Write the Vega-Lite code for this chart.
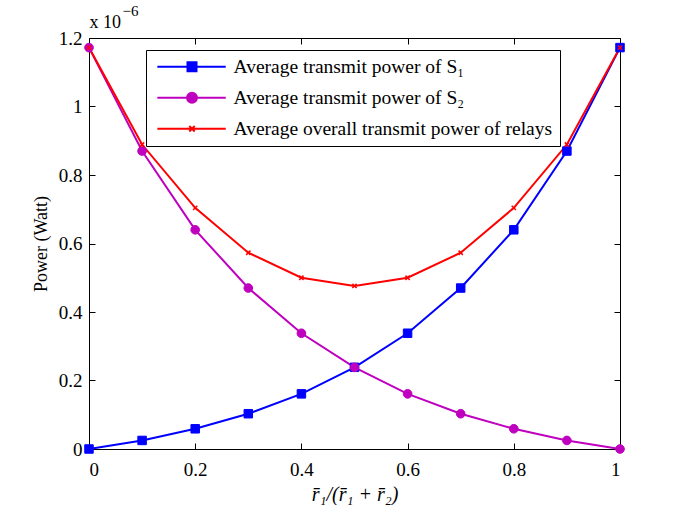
{
  "$schema": "https://vega.github.io/schema/vega-lite/v6.json",
  "width": 531,
  "height": 411,
  "autosize": {"type": "none"},
  "padding": {"left": 89, "top": 38, "right": 65, "bottom": 56},
  "background": "white",
  "config": {
    "font": "Liberation Serif",
    "view": {"stroke": "black", "strokeWidth": 1},
    "axis": {
      "domain": false,
      "grid": false,
      "tickColor": "black",
      "tickSize": -6,
      "labelFont": "Liberation Serif",
      "labelFontSize": 19,
      "labelColor": "black",
      "titleFont": "Liberation Serif",
      "titleFontSize": 18,
      "titleFontWeight": "normal",
      "titleColor": "black"
    },
    "legend": {"labelFont": "Liberation Serif"}
  },
  "data": {
    "values": [
      {"r": 0, "series": "Average transmit power of S₁", "p": 0},
      {"r": 0.1, "series": "Average transmit power of S₁", "p": 0.025},
      {"r": 0.2, "series": "Average transmit power of S₁", "p": 0.059},
      {"r": 0.3, "series": "Average transmit power of S₁", "p": 0.103},
      {"r": 0.4, "series": "Average transmit power of S₁", "p": 0.161},
      {"r": 0.5, "series": "Average transmit power of S₁", "p": 0.2385},
      {"r": 0.6, "series": "Average transmit power of S₁", "p": 0.338},
      {"r": 0.7, "series": "Average transmit power of S₁", "p": 0.470},
      {"r": 0.8, "series": "Average transmit power of S₁", "p": 0.640},
      {"r": 0.9, "series": "Average transmit power of S₁", "p": 0.870},
      {"r": 1.0, "series": "Average transmit power of S₁", "p": 1.172},
      {"r": 0, "series": "Average transmit power of S₂", "p": 1.172},
      {"r": 0.1, "series": "Average transmit power of S₂", "p": 0.870},
      {"r": 0.2, "series": "Average transmit power of S₂", "p": 0.640},
      {"r": 0.3, "series": "Average transmit power of S₂", "p": 0.470},
      {"r": 0.4, "series": "Average transmit power of S₂", "p": 0.338},
      {"r": 0.5, "series": "Average transmit power of S₂", "p": 0.2385},
      {"r": 0.6, "series": "Average transmit power of S₂", "p": 0.161},
      {"r": 0.7, "series": "Average transmit power of S₂", "p": 0.103},
      {"r": 0.8, "series": "Average transmit power of S₂", "p": 0.059},
      {"r": 0.9, "series": "Average transmit power of S₂", "p": 0.025},
      {"r": 1.0, "series": "Average transmit power of S₂", "p": 0},
      {"r": 0, "series": "Average overall transmit power of relays", "p": 1.172},
      {"r": 0.1, "series": "Average overall transmit power of relays", "p": 0.889},
      {"r": 0.2, "series": "Average overall transmit power of relays", "p": 0.704},
      {"r": 0.3, "series": "Average overall transmit power of relays", "p": 0.573},
      {"r": 0.4, "series": "Average overall transmit power of relays", "p": 0.500},
      {"r": 0.5, "series": "Average overall transmit power of relays", "p": 0.476},
      {"r": 0.6, "series": "Average overall transmit power of relays", "p": 0.500},
      {"r": 0.7, "series": "Average overall transmit power of relays", "p": 0.573},
      {"r": 0.8, "series": "Average overall transmit power of relays", "p": 0.704},
      {"r": 0.9, "series": "Average overall transmit power of relays", "p": 0.889},
      {"r": 1.0, "series": "Average overall transmit power of relays", "p": 1.172}
    ]
  },
  "resolve": {"axis": {"x": "independent", "y": "independent"}},
  "layer": [
    {
      "mark": {"type": "line", "strokeWidth": 2, "clip": false},
      "encoding": {
        "x": {
          "field": "r", "type": "quantitative",
          "scale": {"domain": [0, 1], "nice": false, "zero": false},
          "axis": {
            "values": [0, 0.2, 0.4, 0.6, 0.8, 1],
            "format": "~g",
            "labelPadding": 17,
            "title": "r̄₁/(r̄₁ + r̄₂)",
            "titleFontStyle": "italic",
            "titleFontSize": 20,
            "titlePadding": 5
          }
        },
        "y": {
          "field": "p", "type": "quantitative",
          "scale": {"domain": [0, 1.2], "nice": false},
          "axis": {
            "values": [0, 0.2, 0.4, 0.6, 0.8, 1, 1.2],
            "format": "~g",
            "labelPadding": 13,
            "title": "Power (Watt)",
            "titlePadding": 8
          }
        },
        "color": {
          "field": "series", "type": "nominal",
          "scale": {
            "domain": ["Average transmit power of S₁", "Average transmit power of S₂", "Average overall transmit power of relays"],
            "range": ["#0000ff", "#bf00bf", "#ff0000"]
          },
          "legend": {
            "orient": "none",
            "legendX": 57,
            "legendY": 12,
            "title": null,
            "strokeColor": "black",
            "fillColor": "white",
            "padding": 7,
            "labelFont": "Liberation Serif",
            "labelFontSize": 19.5,
            "labelColor": "black",
            "labelLimit": 500,
            "labelOffset": 61,
            "rowPadding": 10,
            "symbolSize": 81,
            "symbolType": "square",
            "encode": {
              "symbols": {
                "update": {
                  "shape": {"signal": "datum.value === 'Average transmit power of S₁' ? 'M-1.2,0H14M5.5,-1H7.5V1H5.5Z' : datum.value === 'Average transmit power of S₂' ? 'M-1.2,0H14M5.4,0A1.1,1.1,0,1,0,7.6,0A1.1,1.1,0,1,0,5.4,0Z' : 'M-1.2,0H14M5.9,-0.6L7.1,0.6M5.9,0.6L7.1,-0.6'"},
                  "stroke": {"signal": "scale('color', datum.value)"},
                  "fill": {"signal": "scale('color', datum.value)"},
                  "strokeWidth": {"value": 2},
                  "opacity": {"value": 1}
                }
              }
            }
          }
        }
      }
    },
    {
      "transform": [{"filter": "datum.series === 'Average transmit power of S₁'"}],
      "mark": {"type": "point", "shape": "square", "size": 72, "filled": true, "opacity": 1, "stroke": "#0000ff", "strokeWidth": 1, "clip": false},
      "encoding": {
        "x": {
          "field": "r", "type": "quantitative",
          "axis": {
            "orient": "top",
            "values": [0, 0.2, 0.4, 0.6, 0.8, 1],
            "labels": false,
            "title": "x 10",
            "titleX": 0,
            "titleY": -11,
            "titleFontSize": 18,
            "titleAlign": "left",
            "titleBaseline": "alphabetic",
            "titleAnchor": "start"
          }
        },
        "y": {
          "field": "p", "type": "quantitative",
          "axis": {
            "orient": "right",
            "values": [0, 0.2, 0.4, 0.6, 0.8, 1, 1.2],
            "labels": false,
            "title": "−6",
            "titleAngle": 0,
            "titleX": -498,
            "titleY": -23,
            "titleAlign": "left",
            "titleBaseline": "alphabetic",
            "titleFontSize": 15
          }
        },
        "color": {"field": "series", "type": "nominal", "legend": null}
      }
    },
    {
      "transform": [{"filter": "datum.series === 'Average transmit power of S₂'"}],
      "mark": {"type": "point", "shape": "circle", "size": 75, "filled": true, "opacity": 1, "stroke": "#bf00bf", "strokeWidth": 1, "clip": false},
      "encoding": {
        "x": {"field": "r", "type": "quantitative", "axis": null},
        "y": {"field": "p", "type": "quantitative", "axis": null},
        "color": {"field": "series", "type": "nominal", "legend": null}
      }
    },
    {
      "transform": [{"filter": "datum.series === 'Average overall transmit power of relays'"}],
      "mark": {"type": "point", "shape": "M-1,-1L1,1M-1,1L1,-1", "size": 18, "filled": false, "opacity": 1, "stroke": "#ff0000", "strokeWidth": 1.5, "clip": false},
      "encoding": {
        "x": {"field": "r", "type": "quantitative", "axis": null},
        "y": {"field": "p", "type": "quantitative", "axis": null}
      }
    }
  ]
}
